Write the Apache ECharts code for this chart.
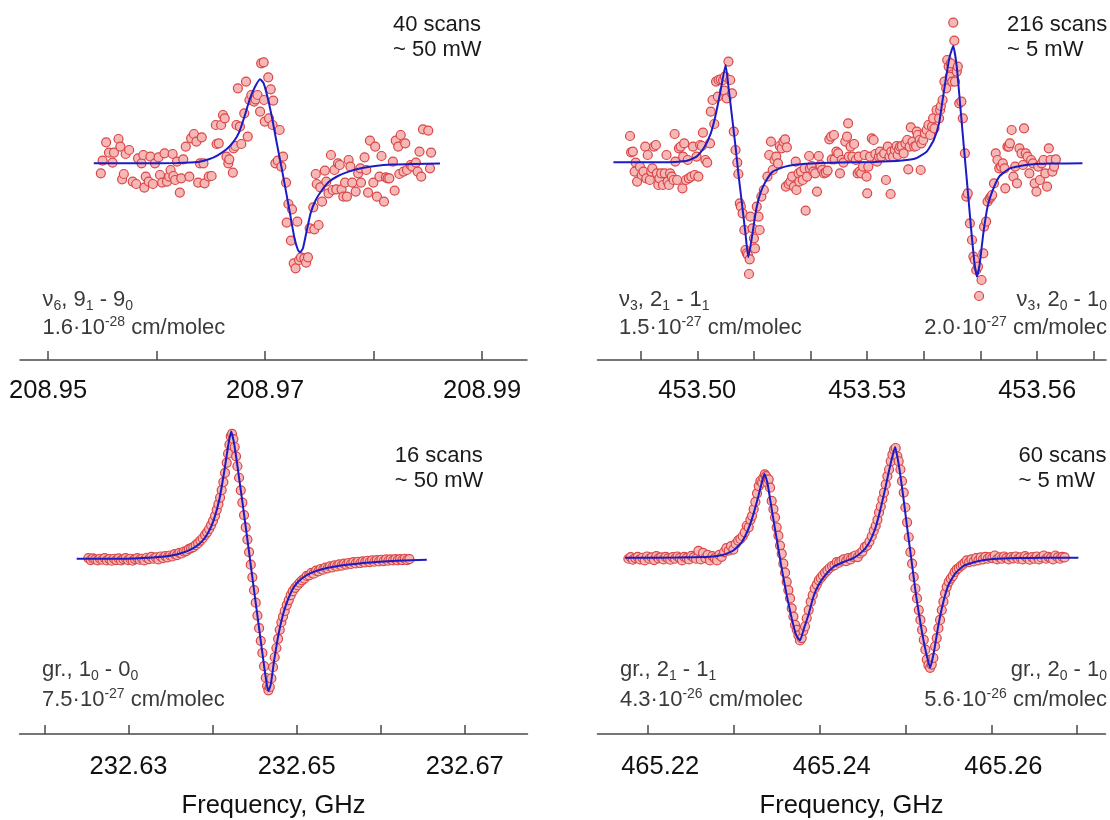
<!DOCTYPE html>
<html><head><meta charset="utf-8">
<script src="https://cdn.jsdelivr.net/npm/echarts@6/dist/echarts.min.js"></script>
<style>html,body{margin:0;padding:0;background:#fff}#c{width:1110px;height:820px}</style>
</head><body><div id="c"></div>
<script>
// ---------- Panel 1: nu6, 9_1 - 9_0 (GHz, a.u.) ----------
const p1X = [208.95486,208.95502,208.95535,208.95561,208.95594,208.95607,208.95649,208.95666,208.95682,208.95698,208.95715,208.95747,208.95780,208.95812,208.95829,208.95861,208.95878,208.95887,208.95900,208.95927,208.95943,208.95966,208.95985,208.96018,208.96031,208.96051,208.96073,208.96096,208.96116,208.96129,208.96148,208.96155,208.96171,208.96188,208.96214,208.96227,208.96246,208.96269,208.96302,208.96318,208.96344,208.96367,208.96383,208.96400,208.96416,208.96432,208.96442,208.96481,208.96507,208.96546,208.96553,208.96573,208.96595,208.96612,208.96628,208.96644,208.96661,208.96670,208.96703,208.96710,208.96726,208.96736,208.96749,208.96768,208.96781,208.96808,208.96824,208.96840,208.96856,208.96873,208.96899,208.96912,208.96931,208.96954,208.96964,208.96987,208.96990,208.96997,208.97029,208.97036,208.97052,208.97069,208.97075,208.97095,208.97117,208.97134,208.97150,208.97166,208.97193,208.97199,208.97215,208.97238,208.97248,208.97264,208.97281,208.97297,208.97313,208.97330,208.97362,208.97378,208.97395,208.97411,208.97444,208.97454,208.97467,208.97476,208.97493,208.97509,208.97525,208.97551,208.97564,208.97584,208.97607,208.97623,208.97639,208.97656,208.97672,208.97688,208.97705,208.97721,208.97737,208.97754,208.97770,208.97786,208.97803,208.97835,208.97858,208.97878,208.97884,208.97917,208.97933,208.97949,208.97966,208.97998,208.98015,208.98031,208.98054,208.98073,208.98096,208.98113,208.98129,208.98145,208.98178,208.98194,208.98204,208.98227,208.98237,208.98250,208.98276,208.98292,208.98308,208.98341,208.98357,208.98390,208.98406,208.98423,208.98439,208.98455,208.98504,208.98520,208.98530];
const p1Y = [-1.00,0.27,2.10,1.07,0.07,1.07,2.43,1.67,-1.60,-1.07,0.93,1.33,-1.83,-2.07,0.50,0.00,0.83,-2.43,-1.33,-1.83,0.67,-2.07,0.00,0.60,-1.17,-1.93,1.00,-1.83,-1.33,-0.67,0.93,-1.27,-1.67,0.17,-2.93,-1.50,0.40,1.67,-1.33,2.50,2.93,2.17,-1.93,0.00,2.60,0.00,-2.00,-1.33,-1.27,3.83,1.93,2.00,3.83,4.83,4.50,0.67,0.00,0.40,-0.93,1.50,1.73,3.83,7.50,3.67,1.93,5.00,8.17,2.67,6.33,6.83,6.17,6.40,6.83,5.17,10.00,10.10,6.33,4.17,8.60,4.50,7.40,3.83,6.27,0.00,0.27,3.33,-0.33,0.67,-1.93,-5.93,-4.07,-7.73,-4.60,-10.00,-10.50,-5.83,-9.67,-9.40,-9.50,-9.93,-9.40,-6.50,-4.40,-6.60,-1.07,-2.07,-6.17,-2.40,-3.83,-0.73,-1.83,-3.00,0.83,-2.67,-0.67,-2.60,0.00,-0.17,-2.60,-3.33,-1.93,-3.33,0.33,-0.33,-1.93,-2.83,-1.00,-0.50,-1.93,0.60,-0.67,-2.93,2.27,-1.93,1.67,-3.33,-1.33,0.73,-3.83,-1.40,-1.50,-1.50,0.17,-2.73,2.27,1.67,-1.07,2.83,-0.83,2.00,-0.67,-0.17,-0.33,0.07,-0.83,1.17,-1.33,3.40,3.27,-0.50,1.07];
const p1FitX = [208.95421,208.95861,208.96188,208.96383,208.96481,208.96563,208.96644,208.96710,208.96759,208.96808,208.96856,208.96905,208.96954,208.96987,208.97029,208.97069,208.97108,208.97150,208.97193,208.97232,208.97271,208.97303,208.97323,208.97349,208.97382,208.97421,208.97467,208.97525,208.97591,208.97672,208.97770,208.97884,208.98015,208.98178,208.98374,208.98612];
const p1FitY = [0,0,0.03,0.13,0.40,0.80,1.40,2.17,3.07,4.60,6.33,7.60,8.40,8.00,6.33,4.27,2.00,-0.33,-2.83,-5.17,-7.50,-8.67,-8.90,-8.50,-6.83,-4.93,-3.67,-2.67,-1.83,-1.27,-0.83,-0.50,-0.27,-0.13,-0.07,-0.03];
const p1Ticks = [208.95,208.96,208.97,208.98,208.99];
const p1Labels = [208.95,208.97,208.99];

// ---------- Panel 2: nu3, 2_1 - 1_1 and 2_0 - 1_0 ----------
const p2X = [453.48812,453.48831,453.48862,453.48912,453.48894,453.48937,453.48987,453.49019,453.49050,453.49081,453.49100,453.49125,453.49162,453.49187,453.49206,453.49237,453.49269,453.49287,453.49312,453.49331,453.49362,453.49394,453.49425,453.49456,453.49475,453.49500,453.49519,453.49550,453.49581,453.49600,453.49612,453.49644,453.49675,453.49706,453.49737,453.49750,453.49769,453.49800,453.49831,453.49850,453.49894,453.49925,453.49956,453.49987,453.50019,453.50050,453.50081,453.50100,453.50144,453.50175,453.50225,453.50238,453.50269,453.50300,453.50331,453.50363,453.50375,453.50413,453.50456,453.50475,453.50488,453.50519,453.50550,453.50581,453.50613,453.50644,453.50675,453.50706,453.50725,453.50750,453.50769,453.50800,453.50831,453.50850,453.50875,453.50894,453.50925,453.50913,453.50938,453.50975,453.51000,453.51019,453.51050,453.51081,453.51100,453.51131,453.51175,453.51238,453.51269,453.51300,453.51331,453.51363,453.51394,453.51425,453.51456,453.51488,453.51519,453.51550,453.51563,453.51581,453.51613,453.51644,453.51675,453.51706,453.51738,453.51750,453.51788,453.51800,453.51831,453.51863,453.51894,453.51913,453.51938,453.51975,453.51988,453.52019,453.52050,453.52081,453.52113,453.52144,453.52175,453.52206,453.52238,453.52269,453.52300,453.52331,453.52363,453.52375,453.52413,453.52425,453.52456,453.52488,453.52519,453.52550,453.52581,453.52613,453.52644,453.52663,453.52675,453.52706,453.52738,453.52769,453.52800,453.52831,453.52850,453.52863,453.52894,453.52925,453.52956,453.52988,453.53000,453.53019,453.53050,453.53081,453.53113,453.53144,453.53175,453.53206,453.53225,453.53250,453.53300,453.53331,453.53363,453.53394,453.53413,453.53425,453.53456,453.53488,453.53519,453.53538,453.53563,453.53581,453.53613,453.53644,453.53675,453.53706,453.53725,453.53750,453.53769,453.53800,453.53831,453.53863,453.53875,453.53894,453.53925,453.53944,453.53956,453.53988,453.54019,453.54050,453.54081,453.54113,453.54144,453.54163,453.54188,453.54225,453.54269,453.54288,453.54300,453.54331,453.54363,453.54394,453.54413,453.54438,453.54456,453.54475,453.54500,453.54519,453.54538,453.54550,453.54581,453.54600,453.54625,453.54663,453.54688,453.54725,453.54750,453.54775,453.54813,453.54850,453.54875,453.54900,453.54925,453.54956,453.54975,453.55019,453.55050,453.55063,453.55100,453.55125,453.55163,453.55188,453.55206,453.55238,453.55269,453.55300,453.55331,453.55363,453.55394,453.55425,453.55438,453.55475,453.55500,453.55519,453.55550,453.55581,453.55613,453.55644,453.55688,453.55725,453.55750,453.55769,453.55800,453.55831,453.55863,453.55894,453.55925,453.55956,453.55988,453.56019,453.56050,453.56081,453.56113,453.56144,453.56175,453.56206,453.56238,453.56269,453.56300,453.56331];
const p2Y = [2.73,1.10,1.17,0.07,-0.83,-1.83,-0.33,-1.17,-0.83,1.67,-1.50,0.83,-1.67,-0.83,-0.50,1.67,1.83,-1.00,-2.17,-1.50,-1.00,-2.17,-1.00,0.83,-1.83,-2.17,-1.00,-1.33,-1.67,2.93,0.17,-1.67,1.50,1.67,-2.50,0.67,2.00,-1.67,0.33,-1.50,-1.33,1.67,-1.17,0.67,-1.33,1.83,1.73,3.07,0.33,0.07,2.00,5.17,6.33,3.93,8.17,6.67,8.33,8.40,8.33,7.27,8.67,6.50,10.17,8.33,7.00,3.17,1.33,0.07,-1.07,-4.00,-4.33,-5.00,-6.67,-8.67,-9.00,-9.17,-9.60,-11.07,-5.33,-6.50,-7.50,-8.50,-4.33,-5.33,-6.67,-3.33,-2.67,-1.33,0.83,2.17,-0.67,0.33,0.67,0.00,1.73,1.50,2.17,2.40,-2.33,1.60,-2.07,-1.83,-1.33,-2.33,0.17,-2.67,-1.00,-1.83,-0.83,-1.67,-0.50,-4.73,-1.33,0.73,-0.50,-0.27,-0.83,-1.00,-2.83,0.73,-0.17,-0.67,-1.00,-0.93,-0.73,2.40,2.67,0.40,2.83,0.40,1.17,1.00,-1.00,0.33,0.07,2.17,2.67,4.00,0.67,1.67,0.67,1.93,0.33,-1.00,0.67,-0.83,-1.00,-0.33,0.83,-1.33,-3.00,-0.33,0.67,2.50,2.33,0.93,0.17,0.67,1.17,0.67,1.00,-1.67,1.67,0.67,-3.07,1.17,0.67,1.33,1.73,0.83,1.40,1.67,1.73,1.00,2.00,2.33,-0.60,1.67,3.60,2.17,1.67,1.73,3.17,2.83,2.33,-0.67,2.00,2.33,3.00,3.33,3.83,2.83,3.67,4.50,3.50,5.33,4.50,5.33,5.73,6.33,8.17,7.50,10.33,9.67,8.67,10.00,8.17,14.07,12.27,8.17,9.17,9.67,6.00,6.17,4.50,1.00,-3.33,-3.00,-6.00,-7.67,-9.33,-9.67,-10.67,-10.33,-13.27,-11.67,-9.00,-6.33,-5.83,-3.83,-3.50,-3.33,-3.17,-2.00,1.00,0.33,-0.50,-0.33,0.00,-0.50,-2.50,1.67,1.67,2.00,3.33,-1.33,-0.33,-2.00,1.50,1.00,-0.17,3.50,1.00,0.67,-1.00,0.33,0.00,-2.00,-2.83,-0.33,-1.67,0.00,0.33,-1.00,-2.33,1.50,0.33,-0.83,-0.33,0.40];
const p2FitX = [453.48519,453.49362,453.49800,453.49987,453.50113,453.50238,453.50331,453.50413,453.50500,453.50550,453.50613,453.50675,453.50725,453.50788,453.50850,453.50900,453.50975,453.51038,453.51113,453.51206,453.51331,453.51550,453.51863,453.52488,453.53113,453.53613,453.53863,453.54050,453.54175,453.54269,453.54331,453.54394,453.54456,453.54519,453.54581,453.54644,453.54706,453.54769,453.54831,453.54894,453.54938,453.54988,453.55050,453.55125,453.55206,453.55331,453.55519,453.55800,453.56238,453.56800];
const p2FitY = [0.10,0.10,0.23,0.67,1.50,3.00,5.00,7.33,9.83,7.67,4.67,1.67,-1.00,-4.00,-7.00,-9.40,-7.00,-4.67,-3.00,-1.83,-0.83,-0.33,-0.07,0.07,0.13,0.27,0.50,1.17,2.33,4.00,6.33,8.67,10.67,11.73,9.67,5.67,1.67,-2.33,-6.33,-10.00,-11.33,-10.00,-7.00,-4.33,-2.83,-1.33,-0.50,-0.17,-0.03,0.00];
const p2Ticks = [453.49,453.50,453.51,453.52,453.53,453.54,453.55,453.56,453.57];
const p2Labels = [453.50,453.53,453.56];

// ---------- Panel 3: gr., 1_0 - 0_0 ----------
const p3X = [232.62522,232.62550,232.62578,232.62605,232.62633,232.62661,232.62689,232.62716,232.62744,232.62772,232.62800,232.62827,232.62855,232.62883,232.62911,232.62939,232.62966,232.62994,232.63022,232.63050,232.63077,232.63105,232.63133,232.63161,232.63188,232.63216,232.63244,232.63272,232.63299,232.63327,232.63355,232.63383,232.63410,232.63438,232.63466,232.63494,232.63522,232.63549,232.63577,232.63605,232.63633,232.63660,232.63688,232.63716,232.63744,232.63771,232.63799,232.63827,232.63855,232.63882,232.63910,232.63934,232.63958,232.63982,232.64005,232.64029,232.64049,232.64069,232.64089,232.64108,232.64128,232.64148,232.64168,232.64184,232.64200,232.64216,232.64231,232.64247,232.64263,232.64279,232.64295,232.64315,232.64335,232.64354,232.64374,232.64394,232.64414,232.64434,232.64454,232.64473,232.64493,232.64513,232.64533,232.64553,232.64573,232.64592,232.64612,232.64632,232.64648,232.64664,232.64680,232.64699,232.64719,232.64739,232.64759,232.64779,232.64799,232.64818,232.64838,232.64858,232.64882,232.64906,232.64929,232.64953,232.64981,232.65009,232.65037,232.65064,232.65092,232.65120,232.65148,232.65175,232.65203,232.65231,232.65259,232.65286,232.65314,232.65342,232.65370,232.65397,232.65425,232.65453,232.65481,232.65508,232.65536,232.65564,232.65592,232.65619,232.65647,232.65675,232.65703,232.65731,232.65758,232.65786,232.65814,232.65842,232.65869,232.65897,232.65925,232.65953,232.65980,232.66008,232.66036,232.66064,232.66091,232.66119,232.66147,232.66175,232.66202,232.66230,232.66258,232.66286,232.66314,232.66341];
const p3Y = [0.07,-0.13,0.03,-0.07,-0.17,0,-0.10,0.07,-0.17,-0.03,-0.20,0,-0.13,0.03,-0.17,-0.03,0.07,-0.13,0,-0.20,-0.03,0.07,-0.10,0,-0.17,0.10,-0.03,0.20,0,0.13,-0.07,0.23,0.07,0.27,0.13,0.33,0.23,0.47,0.37,0.60,0.53,0.73,0.77,0.97,1.07,1.17,1.37,1.57,1.83,2.07,2.40,2.67,3.00,3.40,3.83,4.33,4.93,5.50,6.17,6.93,7.73,8.67,9.67,10.60,11.50,12.33,12.60,12.07,11.27,10.33,9.33,8.17,6.90,5.67,4.40,3.17,1.93,0.67,-0.60,-1.87,-3.17,-4.43,-5.73,-7.00,-8.27,-9.50,-10.83,-12.00,-12.83,-13.27,-12.93,-12.07,-10.93,-9.93,-9.00,-8.07,-7.17,-6.40,-5.83,-5.27,-4.67,-4.17,-3.67,-3.27,-2.93,-2.67,-2.40,-2.17,-2.00,-1.73,-1.67,-1.43,-1.50,-1.20,-1.27,-1.03,-1.10,-0.90,-0.97,-0.77,-0.87,-0.67,-0.77,-0.57,-0.70,-0.50,-0.60,-0.43,-0.53,-0.33,-0.47,-0.30,-0.43,-0.27,-0.37,-0.20,-0.33,-0.17,-0.30,-0.13,-0.27,-0.10,-0.23,-0.07,-0.20,-0.07,-0.17,-0.03,-0.17,-0.03,-0.13,0,-0.13,-0.03];
const p3FitX = [232.62383,232.62899,232.63295,232.63494,232.63652,232.63771,232.63871,232.63950,232.64017,232.64081,232.64136,232.64184,232.64220,232.64255,232.64307,232.64366,232.64426,232.64485,232.64545,232.64605,232.64644,232.64664,232.64692,232.64731,232.64783,232.64842,232.64902,232.64969,232.65060,232.65179,232.65358,232.65596,232.65873,232.66191,232.66548];
const p3FitY = [0,0,0.13,0.30,0.63,1.07,1.73,2.67,4.00,6.00,8.67,11.33,12.83,11.67,8.67,5.00,1.17,-2.67,-6.50,-10.33,-12.67,-13.33,-12.67,-10.33,-7.67,-5.50,-4.00,-2.83,-2.00,-1.40,-0.93,-0.60,-0.37,-0.20,-0.10];
const p3Ticks = [232.62,232.63,232.64,232.65,232.66,232.67];
const p3Labels = [232.63,232.65,232.67];

// ---------- Panel 4: gr., 2_1 - 1_1 and 2_0 - 1_0 ----------
const p4X = [465.21770,465.21797,465.21824,465.21851,465.21878,465.21906,465.21933,465.21960,465.21987,465.22014,465.22042,465.22069,465.22096,465.22123,465.22150,465.22178,465.22205,465.22232,465.22259,465.22286,465.22314,465.22341,465.22368,465.22395,465.22422,465.22450,465.22477,465.22504,465.22531,465.22558,465.22586,465.22613,465.22640,465.22667,465.22694,465.22721,465.22749,465.22776,465.22803,465.22830,465.22857,465.22885,465.22912,465.22939,465.22966,465.22993,465.23021,465.23048,465.23075,465.23102,465.23126,465.23149,465.23172,465.23192,465.23211,465.23230,465.23250,465.23269,465.23289,465.23308,465.23328,465.23343,465.23359,465.23374,465.23390,465.23405,465.23421,465.23440,465.23460,465.23479,465.23498,465.23518,465.23537,465.23557,465.23576,465.23596,465.23615,465.23634,465.23654,465.23673,465.23693,465.23712,465.23732,465.23751,465.23770,465.23790,465.23809,465.23829,465.23848,465.23871,465.23895,465.23918,465.23941,465.23965,465.23988,465.24011,465.24035,465.24062,465.24089,465.24116,465.24143,465.24171,465.24198,465.24225,465.24252,465.24279,465.24307,465.24334,465.24361,465.24388,465.24415,465.24443,465.24470,465.24497,465.24524,465.24551,465.24579,465.24606,465.24629,465.24652,465.24672,465.24691,465.24711,465.24730,465.24749,465.24769,465.24788,465.24808,465.24827,465.24847,465.24866,465.24885,465.24905,465.24920,465.24940,465.24959,465.24979,465.24998,465.25018,465.25037,465.25056,465.25076,465.25095,465.25115,465.25134,465.25154,465.25173,465.25192,465.25212,465.25231,465.25247,465.25266,465.25286,465.25305,465.25324,465.25344,465.25363,465.25383,465.25402,465.25422,465.25441,465.25460,465.25480,465.25503,465.25526,465.25550,465.25573,465.25596,465.25620,465.25643,465.25666,465.25690,465.25713,465.25740,465.25767,465.25795,465.25822,465.25849,465.25876,465.25903,465.25931,465.25958,465.25985,465.26012,465.26039,465.26066,465.26094,465.26121,465.26148,465.26175,465.26202,465.26230,465.26257,465.26284,465.26311,465.26338,465.26366,465.26393,465.26420,465.26447,465.26474,465.26502,465.26529,465.26556,465.26583,465.26610,465.26638,465.26665,465.26692,465.26719,465.26746,465.26774,465.26801,465.26828,465.26855];
const p4Y = [-0.10,0.07,-0.20,-0.03,0.10,-0.17,0,-0.27,0.13,-0.10,0.03,-0.23,0.17,-0.07,0.03,-0.17,0.10,-0.07,-0.20,0.07,-0.10,0.13,-0.03,-0.27,0.10,-0.03,-0.17,0.20,0.03,-0.10,0.70,-0.17,0.50,-0.03,0.30,-0.27,0.17,-0.03,-0.27,0.30,0.10,0.57,0.97,0.73,1.17,0.83,1.40,1.73,1.90,2.17,2.57,3.23,3.07,3.83,4.23,4.90,5.63,6.50,7.23,7.73,7.57,8.07,8.40,8.23,7.57,7.90,7.07,5.73,4.90,4.07,3.07,2.23,1.23,0.40,-0.60,-1.50,-2.43,-3.27,-4.10,-5.10,-5.93,-6.77,-7.27,-7.83,-8.33,-8.10,-7.37,-6.93,-6.10,-5.27,-4.43,-3.77,-3.10,-2.70,-2.27,-2.03,-1.77,-1.50,-1.27,-1.03,-0.83,-0.77,-0.43,-0.50,-0.30,-0.17,-0.33,-0.03,-0.17,0.10,0.23,0.07,0.43,0.63,1.07,1.23,1.63,2.17,2.73,3.23,3.83,4.57,5.17,5.90,6.57,7.40,8.23,8.90,9.73,10.40,10.90,11.07,10.23,9.73,8.90,7.73,6.57,5.07,3.57,2.07,0.57,-0.60,-1.93,-3.10,-4.10,-5.27,-6.27,-7.27,-8.27,-9.27,-10.27,-10.83,-11.10,-10.77,-10.10,-8.93,-8.10,-7.10,-6.27,-5.27,-4.43,-3.60,-2.93,-2.43,-2.10,-1.83,-1.43,-1.17,-1.03,-0.83,-0.70,-0.50,-0.27,-0.43,-0.17,-0.37,-0.03,-0.27,0.03,-0.17,0.10,-0.10,0.07,-0.03,0.23,-0.17,0.03,-0.10,0.13,-0.03,-0.17,0.07,-0.07,0.13,-0.10,0.03,-0.17,0.17,-0.03,-0.20,0.07,-0.10,0.13,-0.17,0.03,0.23,-0.10,0.10,-0.03,-0.17,0.23,0.03,-0.10,0.10,0.03];
const p4FitX = [465.21731,465.22333,465.22721,465.22877,465.22993,465.23091,465.23168,465.23227,465.23285,465.23324,465.23355,465.23390,465.23440,465.23498,465.23557,465.23615,465.23673,465.23724,465.23770,465.23817,465.23868,465.23926,465.23984,465.24062,465.24159,465.24275,465.24392,465.24489,465.24567,465.24645,465.24703,465.24761,465.24819,465.24878,465.24917,465.24967,465.25021,465.25072,465.25122,465.25177,465.25227,465.25286,465.25332,465.25383,465.25441,465.25499,465.25577,465.25674,465.25829,465.26024,465.26296,465.26606,465.27014];
const p4FitY = [0,0.03,0.10,0.30,0.73,1.57,2.90,4.40,6.23,7.57,8.47,7.57,4.90,1.90,-1.10,-3.77,-6.10,-7.77,-8.33,-7.10,-5.77,-3.93,-2.77,-1.77,-0.93,-0.43,-0.03,0.57,1.40,2.90,4.73,6.90,9.23,11.17,9.57,6.57,2.90,-0.43,-3.77,-6.77,-9.10,-11.10,-9.43,-6.77,-4.43,-2.77,-1.60,-0.83,-0.37,-0.13,-0.03,0,0];
const p4Ticks = [465.22,465.23,465.24,465.25,465.26,465.27];
const p4Labels = [465.22,465.24,465.26];

// ---------- texts ----------
const scanTexts = [['40 scans','~ 50 mW'],['216 scans','~ 5 mW'],['16 scans','~ 50 mW'],['60 scans','~ 5 mW']];
const axisName = 'Frequency, GHz';

// ---------- build ----------
const FONT = '"Liberation Sans", Arial, Helvetica, sans-serif';
const AX = '#4a4a4a';
function pairs(xs, ys) { const n = Math.min(xs.length, ys.length); const r = []; for (let i = 0; i < n; i++) r.push([xs[i], ys[i]]); return r; }

const grids = [
  {left: 20, top: 0, width: 507, height: 360},
  {left: 597.5, top: 0, width: 508.5, height: 360},
  {left: 19.5, top: 410, width: 508, height: 326.7},
  {left: 597.5, top: 410, width: 508, height: 326.7}
];
const xRanges = [[208.94741, 208.99414], [453.48238, 453.57216], [232.61703, 232.67746], [465.2141, 465.2733]];
const yRanges = [[-19.67, 16.33], [-19.67, 16.33], [-17.67, 15.0], [-17.77, 14.9]];
const ticks = [p1Ticks, p2Ticks, p3Ticks, p4Ticks];
const labels = [p1Labels, p2Labels, p3Labels, p4Labels];

const xAxis = grids.map((g, i) => ({
  type: 'value', gridIndex: i, min: xRanges[i][0], max: xRanges[i][1],
  axisLine: {show: true, onZero: false, lineStyle: {color: AX, width: 1.5}},
  axisTick: {show: true, inside: true, length: 9, customValues: ticks[i], lineStyle: {color: AX, width: 1.5}},
  axisLabel: {show: true, customValues: labels[i], formatter: v => Number(v).toFixed(2),
    fontSize: 25.5, color: '#111', fontFamily: FONT, margin: i < 2 ? 18 : 20,
    padding: i === 3 ? [0, 0, 0, 24] : 0},
  splitLine: {show: false},
  name: i >= 2 ? axisName : '', nameLocation: 'middle', nameGap: 59,
  nameTextStyle: {fontSize: 25.5, color: '#111', fontFamily: FONT}
}));
const yAxis = grids.map((g, i) => ({type: 'value', gridIndex: i, min: yRanges[i][0], max: yRanges[i][1], show: false}));

const pts = [pairs(p1X, p1Y), pairs(p2X, p2Y), pairs(p3X, p3Y), pairs(p4X, p4Y)];
const fits = [pairs(p1FitX, p1FitY), pairs(p2FitX, p2FitY), pairs(p3FitX, p3FitY), pairs(p4FitX, p4FitY)];
const series = [];
for (let i = 0; i < 4; i++) {
  series.push({type: 'scatter', xAxisIndex: i, yAxisIndex: i, data: pts[i], symbol: 'circle', symbolSize: 9,
    itemStyle: {color: '#f6b7b7', borderColor: '#d94646', borderWidth: 1.2, opacity: 1}, silent: true, z: 2});
  series.push({type: 'line', xAxisIndex: i, yAxisIndex: i, data: fits[i], showSymbol: false, symbol: 'none',
    lineStyle: {color: '#1c1cc4', width: 2}, smooth: 0.15, silent: true, z: 3});
}

const RICH = {
  n: {fontSize: 22, lineHeight: 26, fontFamily: FONT, fill: '#3a3a3a'},
  s: {fontSize: 14, lineHeight: 14, fontFamily: FONT, fill: '#3a3a3a', verticalAlign: 'bottom'},
  p: {fontSize: 14, lineHeight: 14, fontFamily: FONT, fill: '#3a3a3a', verticalAlign: 'top'}
};
function rtext(x, y, text, align) {
  return {type: 'text', x: x, y: y, silent: true,
    style: {text: text, rich: RICH, align: align || 'left', verticalAlign: 'middle', fontSize: 22, fontFamily: FONT, fill: '#3a3a3a'}};
}
function ptext(x, y, text) {
  return {type: 'text', x: x, y: y, silent: true,
    style: {text: text, align: 'left', verticalAlign: 'middle', fontSize: 22, fontFamily: FONT, fill: '#1a1a1a'}};
}
const scanPos = [[393, 25], [1007, 25], [394.7, 456], [1018.5, 456]];
const graphic = [];
scanPos.forEach((p, i) => { graphic.push(ptext(p[0], p[1], scanTexts[i][0])); graphic.push(ptext(p[0], p[1] + 25, scanTexts[i][1])); });
graphic.push(rtext(42.5, 300, '{n|ν}{s|6}{n|, 9}{s|1}{n| - 9}{s|0}'));
graphic.push(rtext(42.5, 328, '{n|1.6·10}{p|-28}{n| cm/molec}'));
graphic.push(rtext(619, 300, '{n|ν}{s|3}{n|, 2}{s|1}{n| - 1}{s|1}'));
graphic.push(rtext(619, 328, '{n|1.5·10}{p|-27}{n| cm/molec}'));
graphic.push(rtext(1107, 300, '{n|ν}{s|3}{n|, 2}{s|0}{n| - 1}{s|0}', 'right'));
graphic.push(rtext(1107, 328, '{n|2.0·10}{p|-27}{n| cm/molec}', 'right'));
graphic.push(rtext(42, 670, '{n|gr., 1}{s|0}{n| - 0}{s|0}'));
graphic.push(rtext(42, 700, '{n|7.5·10}{p|-27}{n| cm/molec}'));
graphic.push(rtext(620, 670, '{n|gr., 2}{s|1}{n| - 1}{s|1}'));
graphic.push(rtext(620, 700, '{n|4.3·10}{p|-26}{n| cm/molec}'));
graphic.push(rtext(1107, 670, '{n|gr., 2}{s|0}{n| - 1}{s|0}', 'right'));
graphic.push(rtext(1107, 700, '{n|5.6·10}{p|-26}{n| cm/molec}', 'right'));

const chart = echarts.init(document.getElementById('c'), null, {renderer: 'canvas'});
chart.setOption({
  animation: false, backgroundColor: '#ffffff',
  grid: grids, xAxis: xAxis, yAxis: yAxis, series: series, graphic: graphic
});
</script>
</body></html>
